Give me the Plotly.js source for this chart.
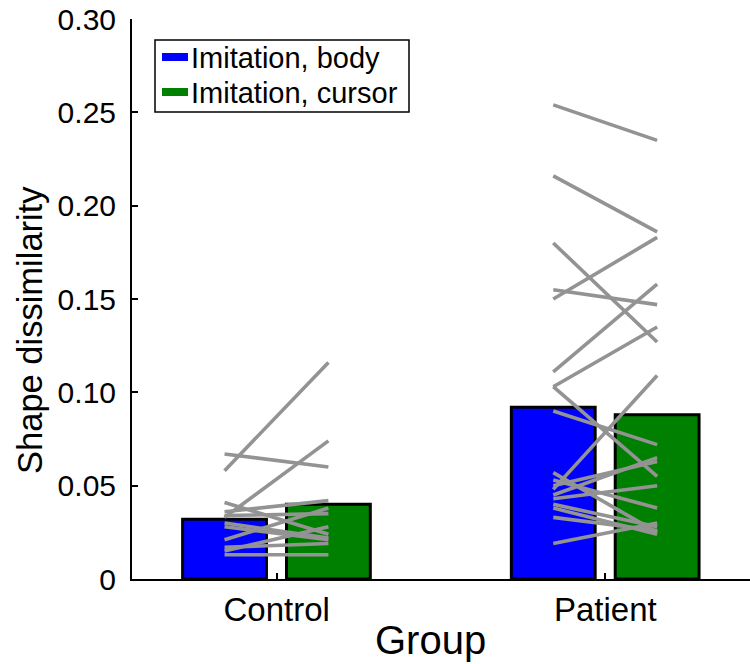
<!DOCTYPE html>
<html>
<head>
<meta charset="utf-8">
<script src="https://cdn.plot.ly/plotly-3.0.1.min.js"></script>
<style>html,body{margin:0;padding:0;background:#fff;}#chart{width:750px;height:664px;}</style>
</head>
<body>
<div id="chart"></div>
<script>
// ---- data ----
const groups = ["Control", "Patient"];
const seriesNames = ["Imitation, body", "Imitation, cursor"];
const meanBody = [0.032, 0.092];
const meanCursor = [0.040, 0.088];
// individual subjects (body -> cursor)
const controlBody   = [0.058, 0.067, 0.033, 0.041, 0.036, 0.034, 0.030, 0.021, 0.017, 0.013, 0.015, 0.028];
const controlCursor = [0.116, 0.060, 0.074, 0.024, 0.042, 0.035, 0.022, 0.038, 0.019, 0.013, 0.028, 0.021];
const patientBody   = [0.254, 0.216, 0.180, 0.155, 0.150, 0.111, 0.103, 0.103, 0.090, 0.048, 0.057, 0.050, 0.045, 0.043, 0.040, 0.038, 0.033, 0.019, 0.053];
const patientCursor = [0.235, 0.186, 0.127, 0.147, 0.183, 0.158, 0.135, 0.055, 0.072, 0.109, 0.025, 0.063, 0.065, 0.050, 0.028, 0.024, 0.026, 0.030, 0.038];
const yTickVals = [0, 0.05, 0.10, 0.15, 0.20, 0.25, 0.30];
const yTickText = ["0", "0.05", "0.10", "0.15", "0.20", "0.25", "0.30"];
const xTitle = "Group";
const yTitle = "Shape dissimilarity";

// ---- styling constants ----
const barW = 0.255, offBody = -0.286, offCursor = 0.030;
const cBody = "#0000ff", cCursor = "#008000", cLine = "#939393";
const FONT = "Liberation Sans, Arial, Helvetica, sans-serif";
const gx = groups.map((g, i) => i);

// plot-area geometry (pixels) used to place legend box / titles
const M = {l: 132, r: 0, t: 19, b: 85};
const PW = 750 - M.l - M.r, PH = 664 - M.t - M.b;
const px = v => (v - M.l) / PW;
const py = v => (664 - M.b - v) / PH;

const traces = [];
traces.push({type: "bar", x: gx, y: meanBody, width: barW, offset: offBody, name: seriesNames[0],
  marker: {color: cBody, line: {color: "#000", width: 3}}, showlegend: false, hoverinfo: "skip"});
traces.push({type: "bar", x: gx, y: meanCursor, width: barW, offset: offCursor, name: seriesNames[1],
  marker: {color: cCursor, line: {color: "#000", width: 3}}, showlegend: false, hoverinfo: "skip"});

function pairLines(gi, b, c) {
  const xs = [], ys = [];
  const xb = gi + offBody + barW / 2, xc = gi + offCursor + barW / 2;
  for (let i = 0; i < b.length; i++) {
    xs.push(xb, xc, null); ys.push(b[i], c[i], null);
  }
  return {type: "scatter", mode: "lines", x: xs, y: ys, line: {color: cLine, width: 3.6},
    showlegend: false, hoverinfo: "skip", cliponaxis: false};
}
traces.push(pairLines(0, controlBody, controlCursor));
traces.push(pairLines(1, patientBody, patientCursor));

// legend drawn as box + swatches + text
const legendColors = [cBody, cCursor];
const legendRowsY = [57, 92];
const shapes = [
  {type: "rect", xref: "paper", yref: "paper", x0: px(155), x1: px(409), y0: py(112), y1: py(40),
   line: {color: "#000", width: 1.5}, fillcolor: "#fff", layer: "above"}
];
const annotations = [
  {text: xTitle, xref: "paper", yref: "paper", x: px(430), y: py(640),
   xanchor: "center", yanchor: "middle", showarrow: false, font: {size: 40, family: FONT}},
  {text: yTitle, xref: "paper", yref: "paper", x: px(30), y: py(330),
   xanchor: "center", yanchor: "middle", textangle: -90, showarrow: false, font: {size: 34.5, family: FONT}}
];
seriesNames.forEach((n, i) => {
  shapes.push({type: "rect", xref: "paper", yref: "paper", x0: px(162), x1: px(188),
    y0: py(legendRowsY[i] + 4), y1: py(legendRowsY[i] - 4), line: {width: 0}, fillcolor: legendColors[i], layer: "above"});
  annotations.push({text: n, xref: "paper", yref: "paper", x: px(189), y: py(legendRowsY[i] + 1),
    xanchor: "left", yanchor: "middle", showarrow: false, font: {size: 29, family: FONT}});
});

const layout = {
  width: 750, height: 664,
  margin: M,
  paper_bgcolor: "#fff", plot_bgcolor: "#fff",
  font: {family: FONT, color: "#000"},
  barmode: "overlay",
  showlegend: false,
  xaxis: {
    range: [-0.44, 1.44], tickvals: gx, ticktext: groups,
    showgrid: false, zeroline: false, showline: true, linecolor: "#000", linewidth: 2,
    ticks: "inside", ticklen: 6, tickwidth: 2, tickcolor: "#000",
    tickfont: {size: 33, family: FONT}
  },
  yaxis: {
    range: [0, 0.30], tickvals: yTickVals, ticktext: yTickText,
    showgrid: false, zeroline: false, showline: true, linecolor: "#000", linewidth: 2,
    ticks: "inside", ticklen: 6, tickwidth: 2, tickcolor: "#000",
    ticklabelstandoff: 8,
    tickfont: {size: 30, family: FONT}
  },
  shapes: shapes,
  annotations: annotations
};

Plotly.newPlot("chart", traces, layout, {displayModeBar: false, staticPlot: true});
</script>
</body>
</html>
